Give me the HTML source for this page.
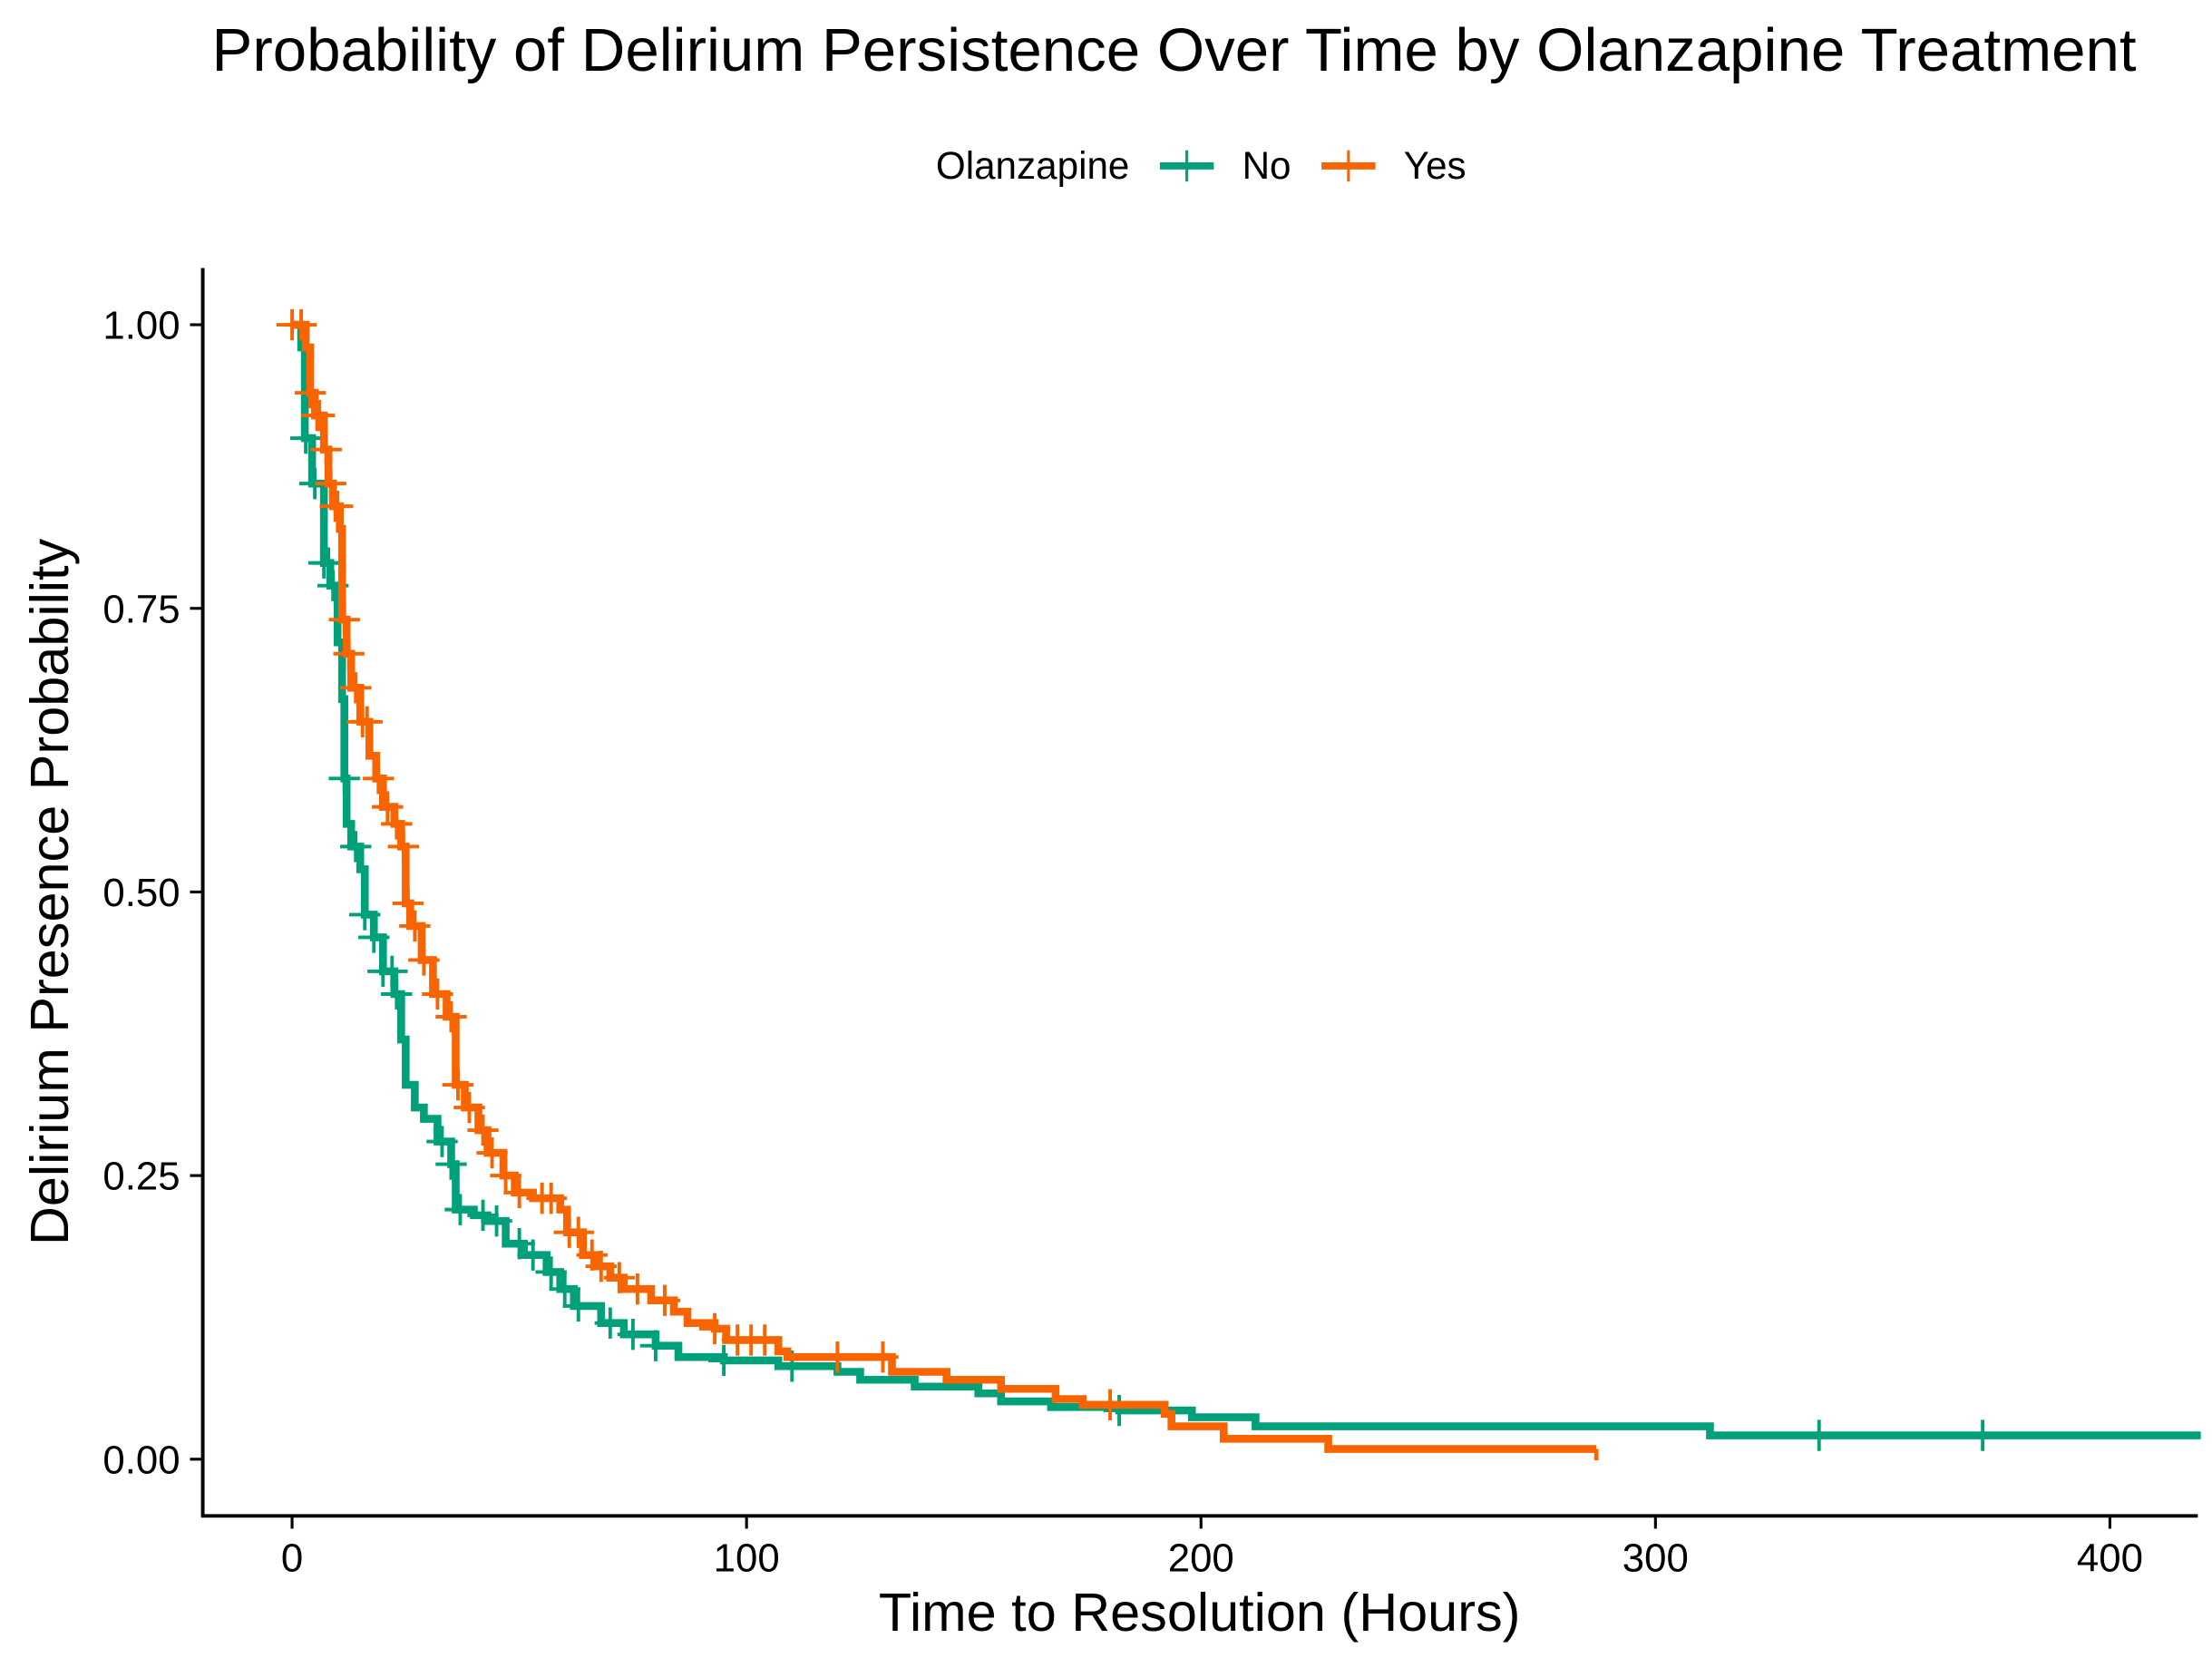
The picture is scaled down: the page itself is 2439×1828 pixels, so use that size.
<!DOCTYPE html>
<html><head><meta charset="utf-8"><style>
html,body{margin:0;padding:0;background:#fff;}
svg{display:block;font-family:"Liberation Sans",Arial,sans-serif;}
</style></head><body>
<svg id="chart" width="2439" height="1828" viewBox="0 0 1560 1169.2" preserveAspectRatio="none" xmlns="http://www.w3.org/2000/svg">
<text x="828" y="50" font-size="43" text-anchor="middle" fill="#000">Probability of Delirium Persistence Over Time by Olanzapine Treatment</text>
<g>
<text x="660" y="126" font-size="27" fill="#000">Olanzapine</text>
<g>
<line x1="818" y1="117" x2="856" y2="117" stroke="#00A07A" stroke-width="5"/>
<line x1="837" y1="106" x2="837" y2="128" stroke="#00A07A" stroke-width="2"/>
<text x="876" y="126" font-size="27" fill="#000">No</text></g>
<g>
<line x1="932" y1="117" x2="970" y2="117" stroke="#F86400" stroke-width="5"/>
<line x1="951" y1="106" x2="951" y2="128" stroke="#F86400" stroke-width="2"/>
<text x="990" y="126" font-size="27" fill="#000">Yes</text></g>
</g>
<g id="axes"></g>
<g id="series"></g>
<line x1="143" y1="189" x2="143" y2="1070" stroke="#000" stroke-width="2.5"/>
<line x1="142" y1="1069" x2="1550" y2="1069" stroke="#000" stroke-width="2.5"/>
<text x="846" y="1150" font-size="38" text-anchor="middle" fill="#000">Time to Resolution (Hours)</text>
<text transform="translate(48,629) rotate(-90)" font-size="38" text-anchor="middle" fill="#000">Delirium Presence Probability</text>
</svg>
<script>
const xTicks=[0,100,200,300,400];
const yTicks=[0,0.25,0.5,0.75,1];
const yTickLabels=["0.00","0.25","0.50","0.75","1.00"];
const noTimes=[0,2,2.8,4.4,7,8.4,10,11,11.5,12,13,15,16,18,20,22.5,24,25,27,29,32,35,36,40,43,47,51,56,59,62,68,73,80,85,95,107,120,125,137,151,156,167,182,198,212,312];
const noSurv=[1,0.98,0.90,0.86,0.79,0.77,0.72,0.67,0.60,0.56,0.54,0.52,0.48,0.46,0.43,0.41,0.37,0.33,0.31,0.30,0.28,0.26,0.22,0.215,0.21,0.19,0.18,0.165,0.15,0.135,0.12,0.11,0.10,0.09,0.087,0.082,0.077,0.07,0.064,0.058,0.051,0.046,0.043,0.037,0.029,0.021];
const noEnd=420;
const noCensor=[3,5,7,8,9,11.5,14,16,18,20,22,23,33,35,37,42,45,50,53,57,60,63,70,75,80,95,110,182,336,372];
const yesTimes=[0,3,4,5,7,8,9,10.5,11,12,13,15,17,18.5,20,22.5,24,25,26,28.5,31,34,36,38,41,43,46.5,49,53,59,60.5,64,67,70,73,79,84,87,93,95.5,107,109,132,144,156,168,174,192,193.5,205,228];
const yesSurv=[1,0.98,0.94,0.92,0.89,0.86,0.84,0.82,0.74,0.71,0.68,0.65,0.62,0.60,0.575,0.56,0.54,0.49,0.47,0.44,0.41,0.39,0.33,0.31,0.29,0.27,0.25,0.235,0.23,0.22,0.20,0.18,0.17,0.16,0.15,0.14,0.13,0.12,0.115,0.105,0.095,0.09,0.077,0.07,0.062,0.053,0.048,0.04,0.029,0.018,0.009];
const yesEnd=287;
const yesCensor=[0,2,4,5.5,6,7.5,8.5,9.5,10,11.5,12.5,14,15.5,16.5,19,21,23,24.5,25.5,27,29,32,35,36.5,39,42,44,47,50,55,57,61,63,66,68,72,76,82,93,98,101,104,120,130,180];
const sx=t=>206+3.205*t;
const sy=s=>1029-800*s;
const NS="http://www.w3.org/2000/svg";
const axes=document.getElementById('axes');
const series=document.getElementById('series');
function mk(tag,attrs,parent){const e=document.createElementNS(NS,tag);for(const k in attrs)e.setAttribute(k,attrs[k]);parent.appendChild(e);return e;}
xTicks.forEach(v=>{
 const l=mk('line',{x1:sx(v),x2:sx(v),y1:1069,y2:1078,stroke:'#000','stroke-width':2},axes);
 
 
 const t=mk('text',{x:sx(v),y:1108,'font-size':28,'text-anchor':'middle',fill:'#000'},axes);
 t.textContent=v;
 
 
});
yTicks.forEach((v,i)=>{
 const l=mk('line',{x1:134,x2:143,y1:sy(v),y2:sy(v),stroke:'#000','stroke-width':2},axes);
 
 
 const t=mk('text',{x:127,y:sy(v)+10,'font-size':28,'text-anchor':'end',fill:'#000'},axes);
 t.textContent=yTickLabels[i];
 
 
});
function survAt(times,surv,t){let s=surv[0];for(let i=0;i<times.length;i++){if(times[i]<=t)s=surv[i];}return s;}
function draw(times,surv,end,censor,color,name){
 let d='M'+sx(times[0])+','+sy(surv[0]);
 for(let i=1;i<times.length;i++){d+=' H'+sx(times[i])+' V'+sy(surv[i]);}
 d+=' H'+sx(end);
 const p=mk('path',{d:d,fill:'none',stroke:color,'stroke-width':5.5},series);
 
 
 censor.forEach(t=>{
  const x=sx(t),y=sy(survAt(times,surv,t));
  const g=mk('path',{d:`M${x-11},${y} H${x+11} M${x},${y-11} V${y+11}`,stroke:color,'stroke-width':2.5,fill:'none'},series);
  
  
 });
}
draw(noTimes,noSurv,noEnd,noCensor,'#00A07A','no');
draw(yesTimes,yesSurv,yesEnd,yesCensor,'#F86400','yes');
const endTick=mk('line',{x1:sx(yesEnd),x2:sx(yesEnd),y1:sy(0.009),y2:sy(0.009)+8,stroke:'#F86400','stroke-width':3},series);


</script>
</body></html>
